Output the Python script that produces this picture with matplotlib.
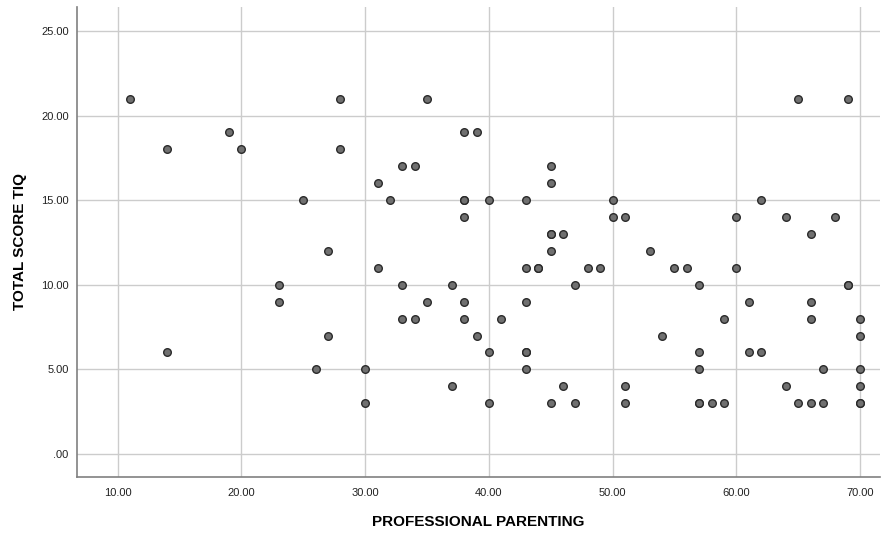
import matplotlib.pyplot as plt
from matplotlib.ticker import FuncFormatter

# Datos (puntos repetidos = aparecen mas oscuros)
parenting = [11, 14, 14, 19, 20, 23, 23, 25, 26, 27, 27, 28, 28, 30, 30,
             31, 31, 32, 33, 33, 33, 34, 34, 35, 35, 37, 37, 38, 38, 38,
             38, 38, 38, 39, 39, 40, 40, 40, 41, 43, 43, 43, 43, 43, 43,
             44, 44, 45, 45, 45, 45, 45, 45, 46, 46, 47, 47, 48, 49, 50,
             50, 51, 51, 51, 53, 54, 55, 56, 57, 57, 57, 57, 57, 58, 59,
             59, 60, 60, 61, 61, 62, 62, 64, 64, 65, 65, 66, 66, 66, 66,
             67, 67, 68, 69, 69, 69, 70, 70, 70, 70, 70, 70]
tiq = [21, 18, 6, 19, 18, 10, 9, 15, 5, 12, 7, 21, 18, 5, 3,
       16, 11, 15, 17, 10, 8, 17, 8, 21, 9, 10, 4, 19, 15, 15,
       14, 9, 8, 19, 7, 15, 6, 3, 8, 15, 11, 9, 6, 6, 5,
       11, 11, 17, 16, 13, 13, 12, 3, 13, 4, 10, 3, 11, 11, 15,
       14, 14, 4, 3, 12, 7, 11, 11, 10, 6, 5, 3, 3, 3, 8,
       3, 14, 11, 9, 6, 15, 6, 14, 4, 21, 3, 13, 9, 8, 3,
       5, 3, 14, 21, 10, 10, 8, 7, 5, 4, 3, 3]
x_ticks = [10, 20, 30, 40, 50, 60, 70]
y_ticks = [0, 5, 10, 15, 20, 25]

plt.rcParams['font.family'] = ['Liberation Sans', 'DejaVu Sans']

fig = plt.figure(figsize=(8.91, 5.33), dpi=100)
ax = fig.add_axes([0.0864, 0.105, 0.901, 0.882])

ax.scatter(parenting, tiq, s=30, c='#707070', edgecolors='#2a2a2a',
           linewidths=1.0, zorder=3)

ax.set_xlim(6.7, 71.6)
ax.set_ylim(-1.36, 26.42)
ax.set_xticks(x_ticks)
ax.set_yticks(y_ticks)

fmt = FuncFormatter(lambda v, p: '.00' if v == 0 else f'{v:.2f}')
ax.xaxis.set_major_formatter(fmt)
ax.yaxis.set_major_formatter(fmt)

ax.grid(True, color='#cccccc', linewidth=1.0, zorder=0)
ax.set_axisbelow(True)
ax.tick_params(length=0, labelsize=8, colors='#222222')
ax.tick_params(axis='x', pad=8)
ax.tick_params(axis='y', pad=6)

for side in ['top', 'right']:
    ax.spines[side].set_visible(False)
for side in ['left', 'bottom']:
    ax.spines[side].set_color('#808080')
    ax.spines[side].set_linewidth(1.2)

ax.set_xlabel('PROFESSIONAL PARENTING', fontsize=11, fontweight='bold', labelpad=12)
ax.set_ylabel('TOTAL SCORE TIQ', fontsize=11, fontweight='bold', labelpad=10)

fig.savefig('out.png', dpi=100)
